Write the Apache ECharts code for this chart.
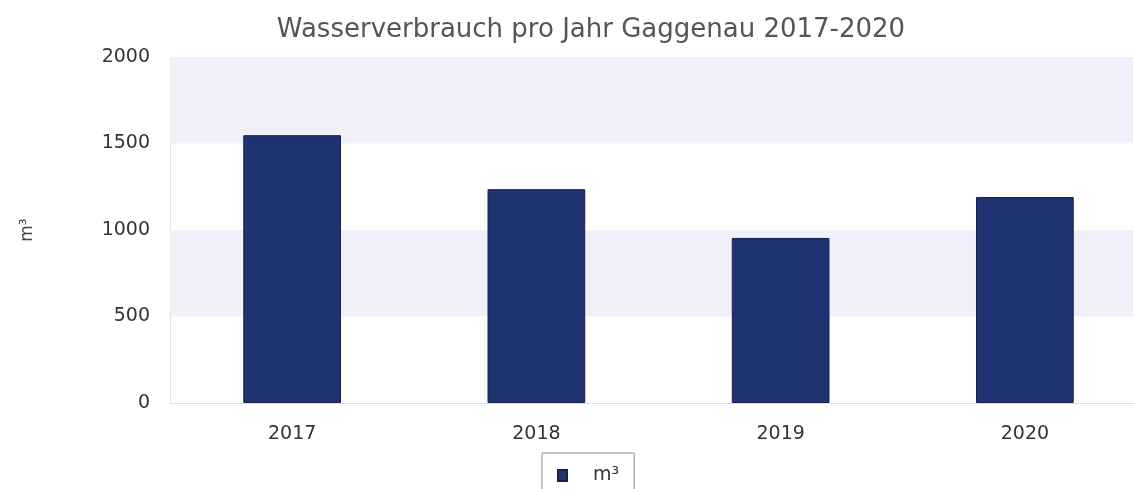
<!DOCTYPE html>
<html>
<head>
<meta charset="utf-8">
<script src="https://cdn.jsdelivr.net/npm/echarts@6/dist/echarts.min.js"></script>
<style>html,body{margin:0;padding:0;background:#fff}#c{width:1133px;height:489px}</style>
</head>
<body>
<div id="c"></div>
<script>
const titleText = 'Wasserverbrauch pro Jahr Gaggenau 2017-2020';
const categories = ['2017', '2018', '2019', '2020'];
const seriesName = 'm³';
const values = [1548, 1236, 954, 1191];
const yTicks = { min: 0, max: 2000, interval: 500 };

const chart = echarts.init(document.getElementById('c'), null, { renderer: 'canvas' });
chart.setOption({
  animation: false,
  backgroundColor: '#ffffff',
  title: {
    text: titleText,
    left: 586,
    textAlign: 'center',
    top: 12,
    textStyle: { fontFamily: 'DejaVu Sans', fontSize: 26, fontWeight: 'normal', color: '#555555' }
  },
  grid: { left: 170, right: -14, top: 57, bottom: 86, outerBoundsMode: 'none', containLabel: false },
  legend: {
    data: [seriesName],
    left: 542,
    top: 453,
    padding: [13, 15, 13, 15],
    borderColor: '#8a8a8a',
    borderWidth: 1,
    icon: 'rect',
    itemWidth: 9,
    itemHeight: 11,
    itemGap: 10,
    formatter: function (name) { return '{t|' + name + '}'; },
    textStyle: {
      fontFamily: 'DejaVu Sans', fontSize: 19, color: '#333333',
      rich: { t: { fontFamily: 'DejaVu Sans', fontSize: 19, color: '#333333', padding: [0, 0, 0, 21] } }
    }
  },
  xAxis: {
    type: 'category',
    data: categories,
    axisLine: { show: true, lineStyle: { color: '#dddddd' } },
    axisTick: { show: false },
    axisLabel: { margin: 22, fontFamily: 'DejaVu Sans', fontSize: 19, color: '#333333' },
    splitLine: { show: false }
  },
  yAxis: {
    type: 'value',
    min: yTicks.min,
    max: yTicks.max,
    interval: yTicks.interval,
    name: seriesName,
    nameLocation: 'middle',
    nameGap: 134,
    nameRotate: 90,
    nameTextStyle: { fontFamily: 'DejaVu Sans', fontSize: 17, color: '#444444' },
    axisLine: { show: true, lineStyle: { color: '#e6e6e6' } },
    axisTick: { show: false },
    axisLabel: {
      margin: 20, fontFamily: 'DejaVu Sans', fontSize: 19, color: '#333333',
      formatter: function (v) { return String(v); }
    },
    splitLine: { show: false },
    splitArea: { show: true, areaStyle: { color: ['#ffffff', '#f0f1f8'] } }
  },
  series: [{
    name: seriesName,
    type: 'bar',
    data: values,
    barWidth: '40%',
    itemStyle: { color: '#1f3272', borderColor: '#14214d', borderWidth: 1 }
  }]
});
</script>
</body>
</html>
